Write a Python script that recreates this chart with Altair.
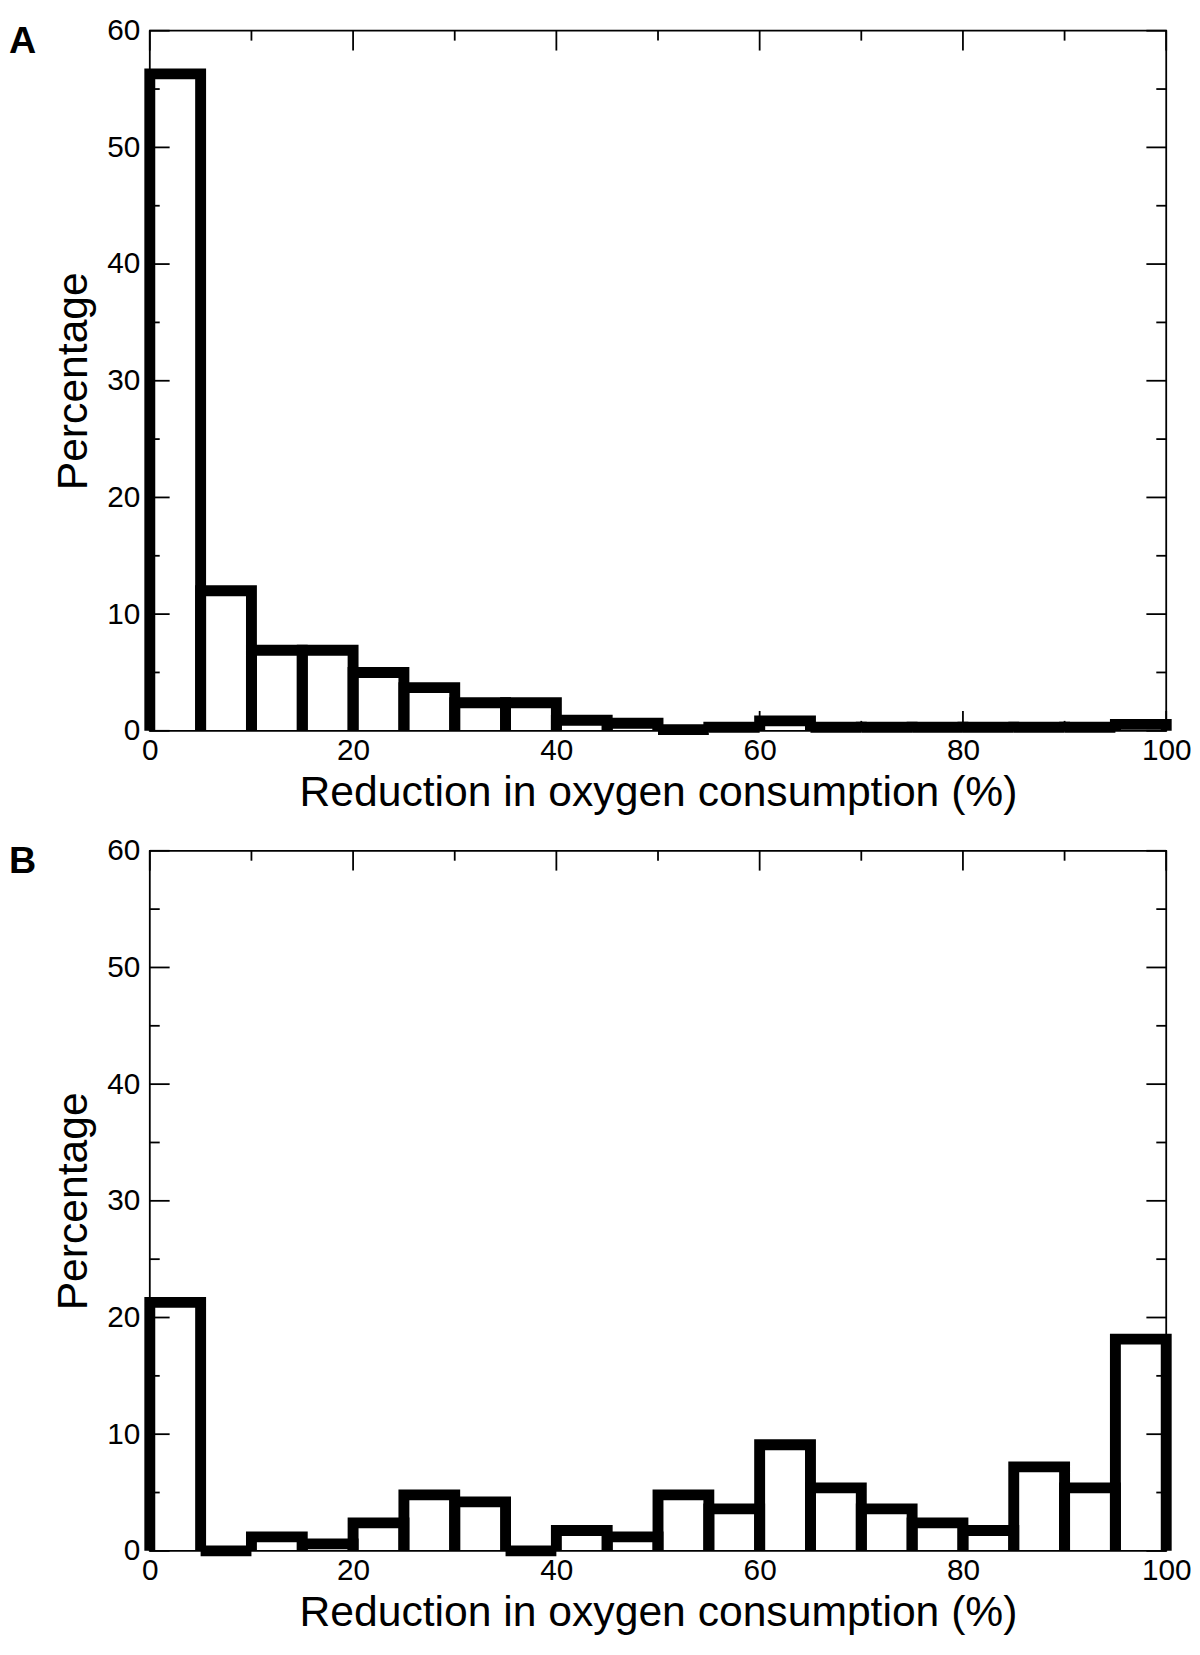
import altair as alt
import pandas as pd

# ---- data ----
bin_edges = [0, 5, 10, 15, 20, 25, 30, 35, 40, 45, 50, 55, 60, 65, 70, 75, 80, 85, 90, 95, 100]
pct_a = [56.3, 12.0, 6.9, 6.9, 5.0, 3.7, 2.4, 2.4, 0.9, 0.65, 0.1, 0.3, 0.85, 0.3, 0.3, 0.3, 0.3, 0.3, 0.3, 0.55]
pct_b = [21.3, 0.0, 1.2, 0.6, 2.4, 4.8, 4.2, 0.0, 1.75, 1.2, 4.8, 3.6, 9.1, 5.4, 3.6, 2.4, 1.75, 7.2, 5.4, 18.15]
x_major = [0, 20, 40, 60, 80, 100]
x_minor = [10, 30, 50, 70, 90]
y_major = [0, 10, 20, 30, 40, 50, 60]
y_minor = [5, 15, 25, 35, 45, 55]
x_title = "Reduction in oxygen consumption (%)"
y_title = "Percentage"

FONT = "Liberation Sans"
W, H = 1025, 706


def outline_table(values):
    rows = []
    for i, v in enumerate(values):
        x0, x1 = bin_edges[i], bin_edges[i + 1]
        for k, (xx, yy) in enumerate([(x0, 0), (x0, v), (x1, v), (x1, 0)]):
            rows.append({"bin": i, "k": k, "x": xx, "y": yy})
    return pd.DataFrame(rows)


def panel(values, letter, letter_y):
    xs = alt.Scale(domain=[0, 100], nice=False, zero=False)
    ys = alt.Scale(domain=[0, 60], nice=False)
    x_axis = alt.Axis(values=x_major, title=x_title, labelFlush=False, labelPadding=5,
                      titlePadding=6, ticks=False, domain=False, grid=False)
    y_axis = alt.Axis(values=y_major, title=y_title, labelPadding=10, titlePadding=11,
                      ticks=False, domain=False, grid=False)

    hist = alt.Chart(outline_table(values)).mark_line(
        color="black", strokeWidth=11, strokeJoin="miter", strokeCap="butt"
    ).encode(
        x=alt.X("x:Q", scale=xs, axis=x_axis),
        y=alt.Y("y:Q", scale=ys, axis=y_axis),
        detail="bin:N",
        order="k:Q",
    )

    def yticks(vals, length):
        d = pd.DataFrame({"y": vals})
        left = alt.Chart(d).mark_rule(color="black", strokeWidth=1.8).encode(
            y=alt.Y("y:Q", scale=ys, axis=y_axis), x=alt.value(0), x2=alt.value(length))
        right = alt.Chart(d).mark_rule(color="black", strokeWidth=1.8).encode(
            y=alt.Y("y:Q", scale=ys, axis=y_axis), x=alt.value(W - length), x2=alt.value(W))
        return [left, right]

    def xticks(vals, length):
        d = pd.DataFrame({"x": vals})
        bottom = alt.Chart(d).mark_rule(color="black", strokeWidth=1.8).encode(
            x=alt.X("x:Q", scale=xs, axis=x_axis), y=alt.value(H - length), y2=alt.value(H))
        top = alt.Chart(d).mark_rule(color="black", strokeWidth=1.8).encode(
            x=alt.X("x:Q", scale=xs, axis=x_axis), y=alt.value(0), y2=alt.value(length))
        return [bottom, top]

    label = alt.Chart(pd.DataFrame({"t": [letter]})).mark_text(
        align="left", baseline="alphabetic", fontSize=38, fontWeight="bold", font=FONT, color="black"
    ).encode(text="t:N", x=alt.value(-142), y=alt.value(letter_y))

    layers = yticks(y_major, 20) + yticks(y_minor, 10) + xticks(x_major, 20) + xticks(x_minor, 10)
    return alt.layer(hist, *layers, label).properties(width=W, height=H)


chart = alt.vconcat(
    panel(pct_a, "A", 22),
    panel(pct_b, "B", 22),
    spacing=20,
).properties(
    padding={"left": 0, "top": 0, "right": 0, "bottom": 0}
).configure_view(
    stroke="black", strokeWidth=1.8
).configure_axis(
    labelFont=FONT, labelFontSize=30, labelColor="black",
    titleFont=FONT, titleFontSize=43, titleFontWeight="normal", titleColor="black",
).configure_text(font=FONT)

chart.save("out.html", embed_options={"renderer": "svg", "actions": False})
